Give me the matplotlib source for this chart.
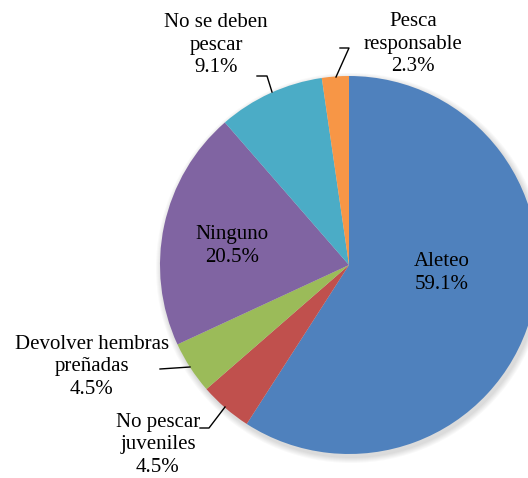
import matplotlib.pyplot as plt
from matplotlib.patches import Circle

# data
labels = ["Aleteo", "No pescar\njuveniles", "Devolver hembras\npreñadas",
          "Ninguno", "No se deben\npescar", "Pesca\nresponsable"]
values = [59.1, 4.5, 4.5, 20.5, 9.1, 2.3]
colors = ["#4F81BD", "#C0504D", "#9BBB59", "#8064A2", "#4BACC6", "#F79646"]

W, H = 528, 478
fig = plt.figure(figsize=(W / 100, H / 100), dpi=100)
ax = fig.add_axes([0, 0, 1, 1])
plt.rcParams["font.family"] = ["Liberation Serif", "DejaVu Serif"]

cx, cy, r = 349, H - 265, 189

# soft shadow
for i in range(6):
    ax.add_patch(Circle((cx + 2, cy - 3), r + 1 + i, color="black",
                        alpha=0.025, lw=0, zorder=0))

ax.pie(values, colors=colors, startangle=90, counterclock=False,
       center=(cx, cy), radius=r, wedgeprops=dict(linewidth=0),
       frame=True)
ax.set_xlim(0, W)
ax.set_ylim(0, H)
ax.set_aspect("equal")
ax.axis("off")

fs = 15
# label positions in pixel coords (x, y from top)
pos = [(442, 273), (158, 445), (92, 367), (232, 246), (216, 45), (413, 44)]
for lab, v, (x, y) in zip(labels, values, pos):
    ax.text(x, H - y, f"{lab}\n{v}%", ha="center", va="center",
            fontsize=fs, linespacing=1.25, color="black")

# leader lines
lines = [
    [(257, 76), (267, 76), (272, 92)],
    [(340, 48), (349, 48), (336, 77)],
    [(160, 369), (190, 367)],
    [(200, 428), (209, 428), (225, 407)],
]
for pts in lines:
    xs = [p[0] for p in pts]
    ys = [H - p[1] for p in pts]
    ax.plot(xs, ys, color="black", lw=1.0)

fig.savefig("out.png", dpi=100)
